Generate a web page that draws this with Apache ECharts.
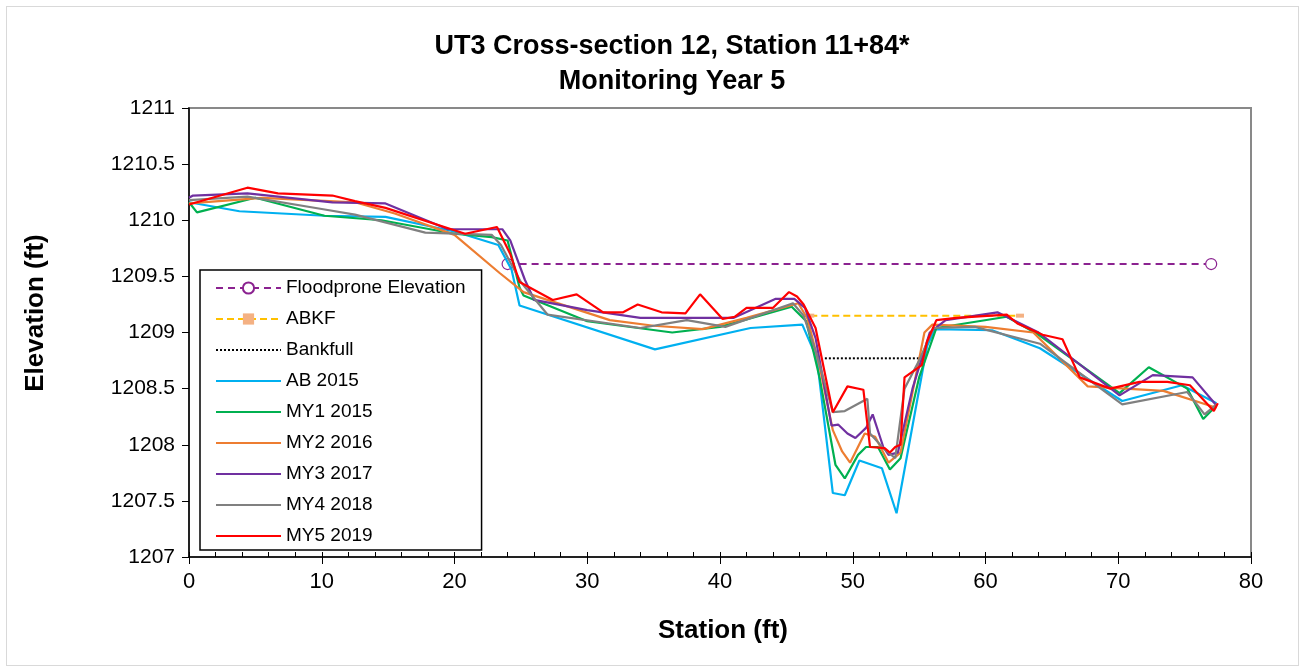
<!DOCTYPE html>
<html>
<head>
<meta charset="utf-8">
<script src="https://cdn.jsdelivr.net/npm/echarts@6/dist/echarts.min.js"></script>
<style>
html,body{margin:0;padding:0;background:#fff;}
#frame{position:absolute;left:6px;top:6px;width:1293px;height:660px;border:1px solid #d9d9d9;box-sizing:border-box;}
#chart{position:absolute;left:0;top:0;width:1307px;height:669px;}
</style>
</head>
<body>
<div id="frame"></div>
<div id="chart"></div>
<script>
const titleLines = ['UT3 Cross-section 12, Station 11+84*', 'Monitoring Year 5'];
const xAxisName = 'Station (ft)';
const yAxisName = 'Elevation (ft)';
const xTicks = {min: 0, max: 80, interval: 10};
const yTicks = {min: 1207, max: 1211, interval: 0.5};
const legendNames = ['Floodprone Elevation', 'ABKF', 'Bankfull', 'AB 2015', 'MY1 2015', 'MY2 2016', 'MY3 2017', 'MY4 2018', 'MY5 2019'];

const floodprone = [[24.0, 1209.61], [77.0, 1209.61]];
const abkf = [[46.8, 1209.15], [62.6, 1209.15]];
const bankfull = [[47.9, 1208.77], [55.2, 1208.77]];

const ab2015 = [[0,1210.16],[3.8,1210.08],[10.2,1210.04],[14.8,1210.03],[20,1209.9],[23.3,1209.78],[24.3,1209.56],[24.9,1209.24],[35.1,1208.85],[42.3,1209.04],[46.2,1209.07],[47.3,1208.77],[48.5,1207.57],[49.4,1207.55],[50.5,1207.86],[52.2,1207.79],[53.3,1207.39],[55.6,1208.88],[56.2,1209.03],[60.5,1209.02],[64.1,1208.86],[70.3,1208.39],[74.8,1208.53],[77.4,1208.37]];
const my1_2015 = [[0,1210.16],[0.6,1210.07],[5.0,1210.2],[10.2,1210.04],[14.5,1210.0],[20,1209.88],[22.8,1209.85],[24.0,1209.82],[24.9,1209.4],[25.2,1209.33],[30,1209.1],[36.4,1209.0],[40,1209.05],[45.4,1209.23],[46.5,1209.1],[47.5,1208.6],[48.7,1207.82],[49.4,1207.7],[50.4,1207.91],[51.0,1207.98],[51.9,1207.98],[52.8,1207.78],[53.6,1207.88],[55.0,1208.6],[56.3,1209.04],[61.6,1209.14],[64,1208.98],[70.1,1208.46],[72.3,1208.69],[75.2,1208.5],[76.4,1208.23],[77.4,1208.35]];
const my2_2016 = [[0,1210.15],[5.5,1210.2],[12.5,1210.16],[15.5,1210.06],[20,1209.87],[23.4,1209.53],[25.2,1209.36],[31.7,1209.11],[35,1209.06],[38.7,1209.03],[42,1209.13],[45.9,1209.26],[46.6,1209.12],[47.5,1208.7],[48.5,1208.13],[49.2,1207.94],[49.8,1207.84],[50.9,1208.1],[51.7,1208.07],[52.7,1207.84],[53.6,1207.93],[55.4,1209.0],[56.0,1209.07],[60,1209.05],[63.6,1209.0],[67.7,1208.52],[73.4,1208.48],[77.4,1208.33]];
const my3_2017 = [[0,1210.2],[0.3,1210.22],[4.4,1210.24],[10.8,1210.16],[14.8,1210.15],[19.5,1209.92],[23.6,1209.92],[24.2,1209.82],[25.3,1209.47],[26.0,1209.29],[30,1209.2],[34,1209.13],[41,1209.13],[44.2,1209.3],[45.6,1209.3],[46.4,1209.22],[47.2,1208.95],[48.4,1208.17],[48.9,1208.18],[49.6,1208.1],[50.2,1208.06],[51.0,1208.15],[51.5,1208.27],[52.3,1207.98],[52.7,1207.91],[53.4,1207.93],[54.5,1208.5],[55.8,1209.0],[57,1209.11],[60.9,1209.18],[64,1209.0],[70.1,1208.44],[72.6,1208.62],[75.6,1208.6],[77.4,1208.35]];
const my4_2018 = [[0,1210.18],[4.4,1210.21],[10,1210.1],[12.5,1210.05],[17.8,1209.89],[22.8,1209.87],[23.5,1209.78],[25,1209.45],[27,1209.16],[34,1209.04],[37.5,1209.11],[40.4,1209.05],[45.5,1209.26],[46.3,1209.15],[47.3,1208.8],[48.5,1208.29],[49.4,1208.3],[51.1,1208.41],[51.3,1208.1],[52.3,1207.97],[53.2,1207.88],[53.9,1208.5],[55.0,1208.75],[56.1,1209.04],[59.2,1209.05],[64.1,1208.9],[70.3,1208.36],[75.2,1208.47],[76.5,1208.27],[77.4,1208.36]];
const my5_2019 = [[0,1210.14],[4.4,1210.29],[6.7,1210.24],[10.8,1210.22],[12.5,1210.17],[14.8,1210.11],[20.8,1209.88],[23.2,1209.94],[24.2,1209.7],[24.9,1209.45],[27.4,1209.29],[29.2,1209.34],[31.2,1209.18],[32.7,1209.18],[33.8,1209.25],[35.6,1209.18],[37.4,1209.17],[38.5,1209.34],[40.2,1209.12],[41.1,1209.14],[42,1209.22],[44,1209.22],[45.2,1209.36],[45.8,1209.32],[46.3,1209.25],[47.2,1209.04],[48.5,1208.29],[49.6,1208.52],[50.8,1208.49],[51.3,1207.98],[52.4,1207.97],[52.8,1207.93],[53.2,1207.98],[53.6,1208.0],[53.9,1208.6],[55.2,1208.71],[55.6,1208.92],[56.3,1209.11],[57.8,1209.13],[61.6,1209.16],[62.4,1209.08],[64.3,1208.98],[65.8,1208.94],[67.1,1208.6],[69.4,1208.5],[71.6,1208.56],[73.7,1208.56],[75.4,1208.53],[77.2,1208.3],[77.5,1208.37]];

const FONT = 'Arial, "Liberation Sans", sans-serif';
function dataLine(name, data, color) {
  return {name, type: 'line', data, symbol: 'none', showSymbol: false, lineStyle: {color, width: 2.2}, itemStyle: {color}, z: 3, animation: false};
}
const noMarker = ['Bankfull', 'AB 2015', 'MY1 2015', 'MY2 2016', 'MY3 2017', 'MY4 2018', 'MY5 2019'];

const chart = echarts.init(document.getElementById('chart'), null, {renderer: 'canvas'});
chart.setOption({
  animation: false,
  backgroundColor: 'transparent',
  title: {
    text: titleLines.join('\n'), left: 672, textAlign: 'center', top: 29, padding: 0,
    textStyle: {fontFamily: FONT, fontSize: 27, fontWeight: 'bold', color: '#000', lineHeight: 35}
  },
  graphic: [{
    type: 'text', rotation: Math.PI / 2,
    x: 36, y: 313, z: 10,
    style: {text: yAxisName, font: 'bold 26px ' + FONT, fill: '#000', textAlign: 'center', textVerticalAlign: 'middle'}
  }],
  grid: {left: 189, right: 56, top: 108, bottom: 112, show: true, borderColor: '#898989', borderWidth: 2, backgroundColor: '#fff'},
  legend: {
    orient: 'vertical', left: 200, top: 270,
    itemWidth: 65, itemHeight: 14, itemGap: 11,
    padding: [8, 16, 4, 15],
    backgroundColor: '#fff', borderColor: '#000', borderWidth: 1.5,
    textStyle: {fontFamily: FONT, fontSize: 19, color: '#000', lineHeight: 20},
    data: legendNames.map(n => noMarker.indexOf(n) >= 0 ? {name: n, itemStyle: {opacity: 0}} : {name: n})
  },
  xAxis: [{
    type: 'value', min: xTicks.min, max: xTicks.max, interval: xTicks.interval,
    name: xAxisName, nameLocation: 'middle', nameGap: 61,
    nameTextStyle: {fontFamily: FONT, fontSize: 26, fontWeight: 'bold', color: '#000', padding: [0, 0, 0, 6]},
    axisLine: {show: true, lineStyle: {color: '#000', width: 1.5}},
    axisTick: {show: true, length: 7, lineStyle: {color: '#000'}},
    axisLabel: {fontFamily: FONT, fontSize: 22, color: '#000', margin: 14},
    splitLine: {show: false}
  }, {
    type: 'value', min: xTicks.min, max: xTicks.max, interval: 2, position: 'bottom',
    axisLine: {show: false}, axisTick: {show: true, inside: true, length: 5, lineStyle: {color: '#000'}},
    axisLabel: {show: false}, splitLine: {show: false}
  }],
  yAxis: {
    type: 'value', min: yTicks.min, max: yTicks.max, interval: yTicks.interval,
    axisLine: {show: true, lineStyle: {color: '#000', width: 1.5}},
    axisTick: {show: true, length: 7, lineStyle: {color: '#000'}},
    axisLabel: {fontFamily: FONT, fontSize: 21, color: '#000', margin: 14, formatter: v => String(v)},
    splitLine: {show: false}
  },
  series: [
    {name: 'Floodprone Elevation', type: 'line', data: floodprone, symbol: 'circle', symbolSize: 11,
     itemStyle: {color: '#fff', borderColor: '#8B2290', borderWidth: 1.2},
     lineStyle: {color: '#8B2290', width: 2, type: [7, 5]}, z: 2},
    {name: 'ABKF', type: 'line', data: abkf, symbol: 'rect', symbolSize: [8, 4],
     itemStyle: {color: '#F4B183'}, lineStyle: {color: '#FFC000', width: 2, type: [7, 4]}, z: 2},
    {name: 'Bankfull', type: 'line', data: bankfull, symbol: 'none',
     itemStyle: {color: '#000'}, lineStyle: {color: '#000', width: 2, type: [2, 2]}, z: 2},
    dataLine('AB 2015', ab2015, '#00B0F0'),
    dataLine('MY1 2015', my1_2015, '#00B050'),
    dataLine('MY2 2016', my2_2016, '#ED7D31'),
    dataLine('MY3 2017', my3_2017, '#7030A0'),
    dataLine('MY4 2018', my4_2018, '#808080'),
    dataLine('MY5 2019', my5_2019, '#FF0000')
  ]
});
</script>
</body>
</html>
